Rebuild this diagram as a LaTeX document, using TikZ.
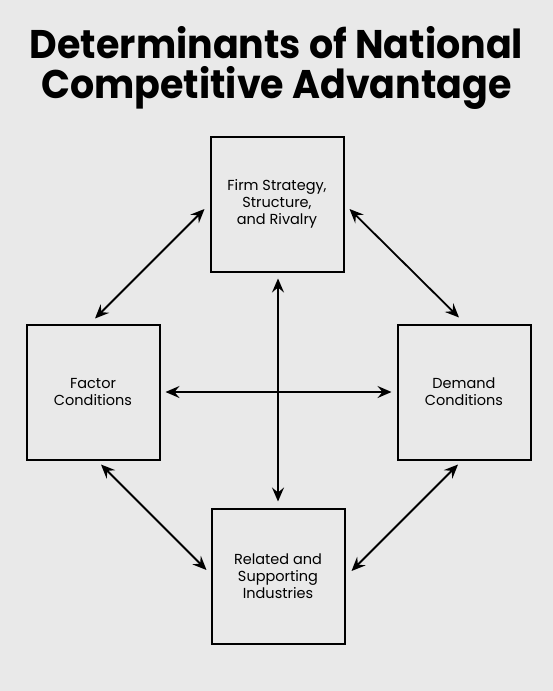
\documentclass[tikz,border=0pt]{standalone}
\usepackage{fontspec}
\setmainfont{Poppins}
\newfontfamily\titlefont{Poppins}[FakeStretch=0.95]
\usetikzlibrary{arrows.meta}
\definecolor{bggray}{HTML}{E9E9E9}

\begin{document}
\begin{tikzpicture}[x=1pt, y=-1pt,
        box/.style={draw, line width=2pt, minimum width=133pt, minimum height=135pt,
            inner sep=0pt, align=center, font=\fontsize{14.5}{17}\selectfont},
        link/.style={line width=1.8pt,
            {Stealth[length=14pt,width=12pt,inset=5pt]}-{Stealth[length=14pt,width=12pt,inset=5pt]}}]
        \useasboundingbox (0,0) rectangle (553,691);
        \fill [bggray] (0,0) rectangle (553,691);

        \node at (276.5,68) [align=center, font=\titlefont\bfseries\fontsize{40}{40}\selectfont] (title)
            {Determinants of National\\Competitive Advantage};

        \node at (277,204) [box] (firm) {Firm Strategy,\\Structure,\\and Rivalry};
        \node at (93,392) [box] (factor) {Factor\\Conditions};
        \node at (464,392) [box] (demand) {Demand\\Conditions};
        \node at (278,576) [box] (related) {Related and\\Supporting\\Industries};

        % diamond of links
        \draw [link] ([xshift=2pt, yshift=5pt]factor.north) -- ([xshift=-5pt, yshift=-5pt]firm.west);
        \draw [link] ([xshift=5pt, yshift=-5pt]firm.east) -- ([xshift=-5pt, yshift=6pt]demand.north);
        \draw [link] ([xshift=8pt, yshift=-4pt]factor.south) -- ([xshift=-4pt, yshift=6pt]related.west);
        \draw [link] ([xshift=6pt, yshift=5pt]related.east) -- ([xshift=-6pt, yshift=-4pt]demand.south);

        % cross
        \draw [link] ([xshift=5pt]factor.east) -- ([xshift=-5pt]demand.west);
        \draw [link] ([xshift=1pt, yshift=-6pt]firm.south) -- ([yshift=6pt]related.north);
    \end{tikzpicture}
\end{document}
